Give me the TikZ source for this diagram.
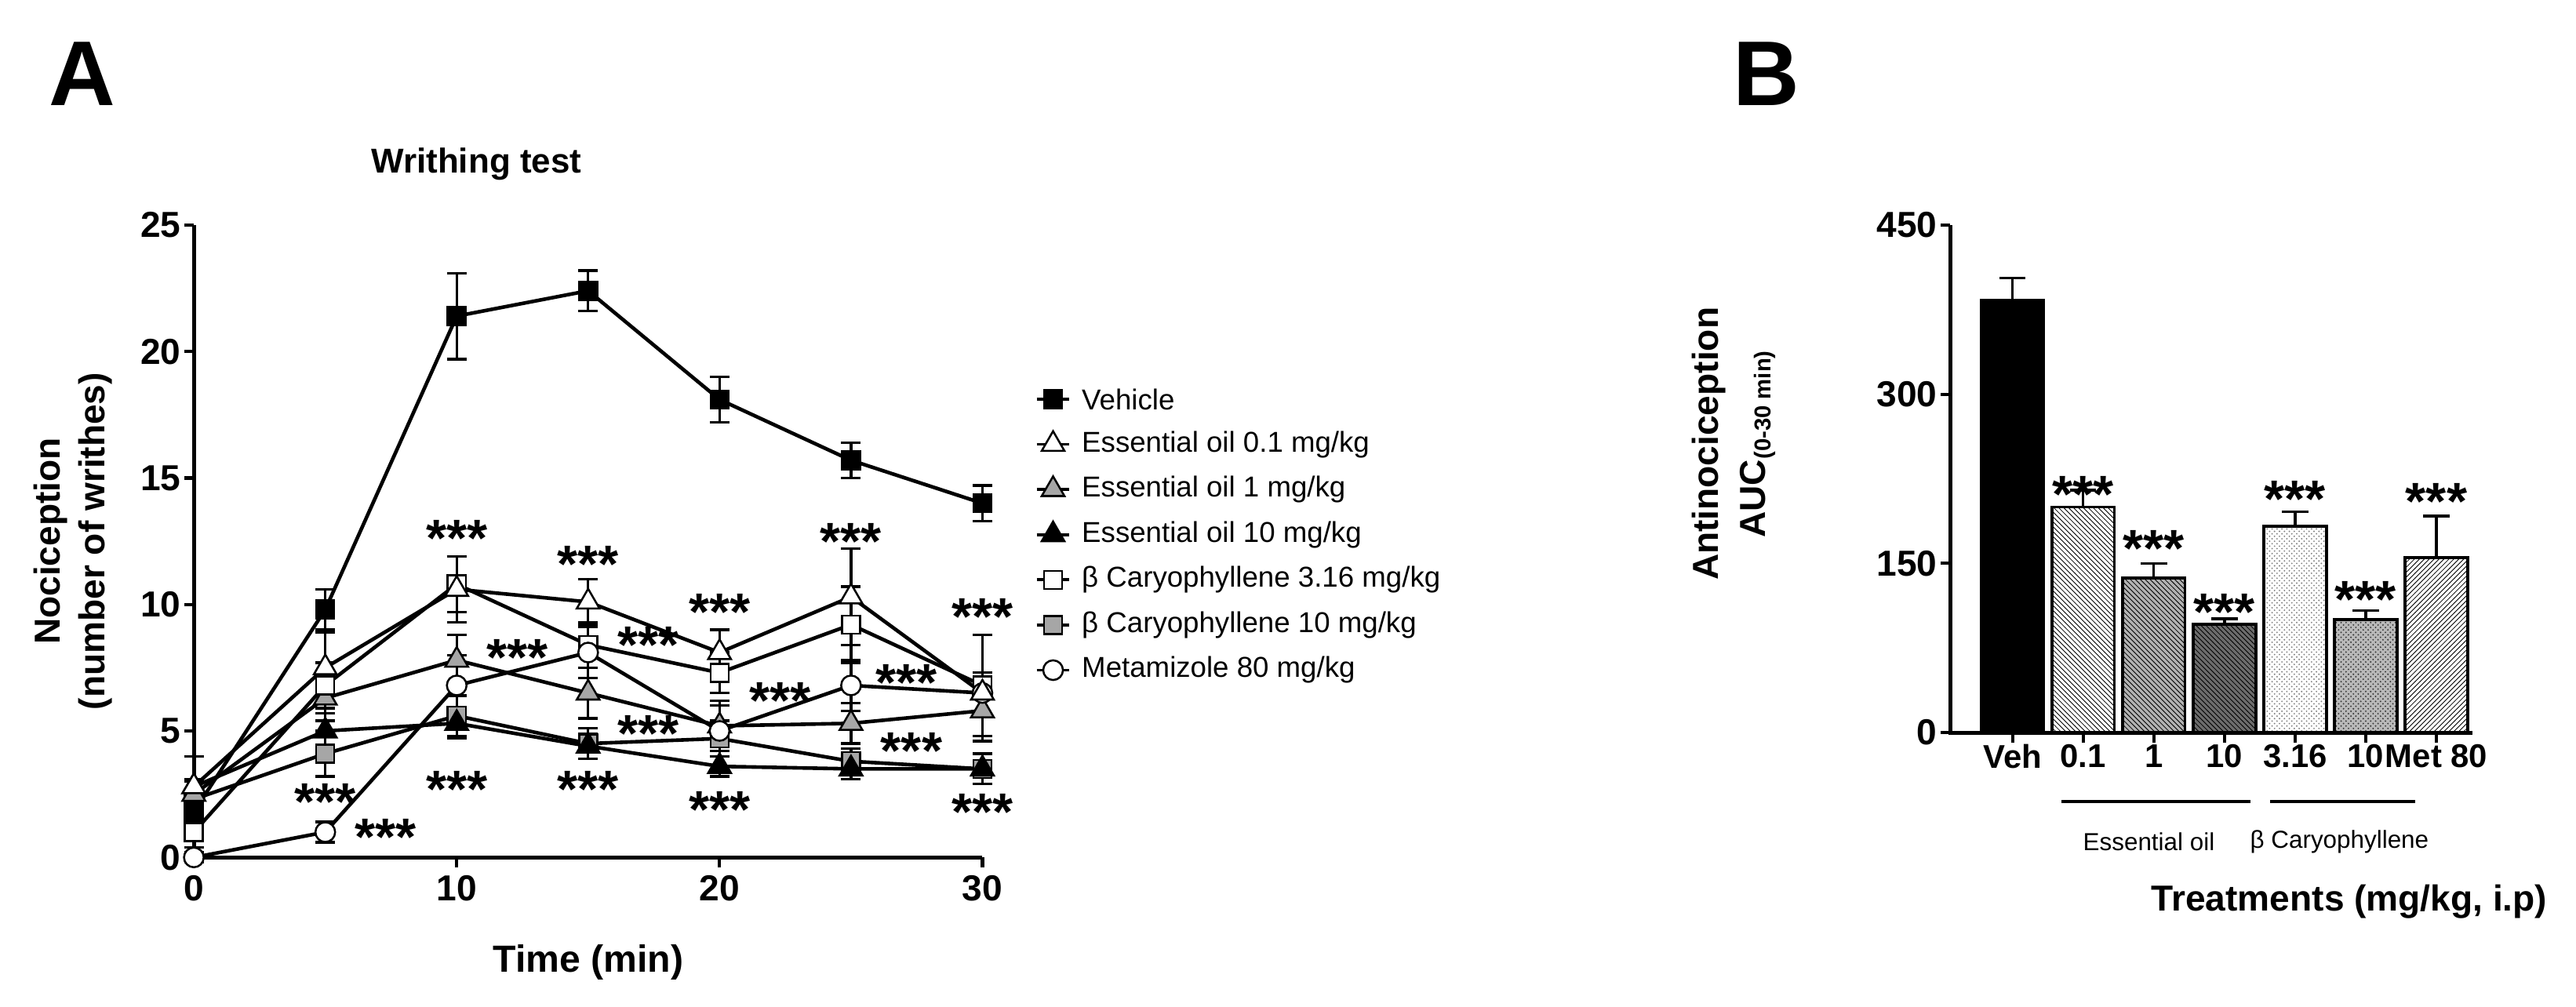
\documentclass[tikz,border=0pt]{standalone}
\usepackage{fontspec}
\setmainfont{Liberation Sans}
\usetikzlibrary{patterns,shapes.geometric}
\begin{document}
\begin{tikzpicture}[
  ln/.style={line width=2.2pt},
  eb/.style={line width=1.6pt},
  msq/.style={draw=black,line width=1.2pt,rectangle,minimum size=11pt,inner sep=0pt},
  mtri/.style={draw=black,line width=1.2pt,regular polygon,regular polygon sides=3,minimum size=16pt,inner sep=0pt},
  mcirc/.style={draw=black,line width=1.2pt,circle,minimum size=12pt,inner sep=0pt},
  tick/.style={font=\fontsize{22}{22}\selectfont\bfseries},
  btick/.style={font=\fontsize{20}{20}\selectfont\bfseries},
  st/.style={font=\fontsize{32}{32}\selectfont\bfseries,inner sep=0pt},
  leg/.style={font=\fontsize{17.5}{17.5}\selectfont,anchor=west},
  bar/.style={draw=black,line width=1.8pt}
]
\useasboundingbox (0pt,0pt) rectangle (1568pt,613pt);
\node[font=\fontsize{56}{56}\selectfont\bfseries] (lA) at (50pt,568pt) {A};
\node[font=\fontsize{56}{56}\selectfont\bfseries] (lB) at (1075pt,568pt) {B};
\node[font=\fontsize{21}{21}\selectfont\bfseries] (ttl) at (290pt,513pt) {Writhing test};
% ---------- Panel A ----------
\begin{scope}[shift={(118pt,91pt)},x=16pt,y=15.4pt]
\draw[line width=2.4pt] (0,25) -- (0,0) -- (30,0);
\foreach \v in {0,5,10,15,20,25}{\draw[line width=2pt] (0,\v) -- ++(-6pt,0) node[tick,anchor=east,inner sep=1pt] {\v};}
\foreach \t in {0,10,20,30}{\draw[line width=2pt] (\t,0) -- ++(0,-6pt) node[tick,anchor=north,inner sep=4pt] {\t};}
\node[font=\fontsize{23}{23}\selectfont\bfseries] (xl) at (15,-4.15) {Time (min)};
\node[font=\fontsize{22}{27}\selectfont\bfseries,rotate=90,align=center] (yl) at (-4.6,12.5) {Nociception\\(number of writhes)};
% lines
\draw[ln] plot coordinates {(0,1.8)(5,9.8)(10,21.4)(15,22.4)(20,18.1)(25,15.7)(30,14.0)};
\draw[ln] plot coordinates {(0,2.8)(5,7.5)(10,10.6)(15,10.1)(20,8.1)(25,10.3)(30,6.5)};
\draw[ln] plot coordinates {(0,2.5)(5,6.3)(10,7.8)(15,6.5)(20,5.2)(25,5.3)(30,5.8)};
\draw[ln] plot coordinates {(0,2.8)(5,5.0)(10,5.3)(15,4.4)(20,3.6)(25,3.5)(30,3.5)};
\draw[ln] plot coordinates {(0,1.0)(5,6.8)(10,10.8)(15,8.4)(20,7.3)(25,9.2)(30,6.8)};
\draw[ln] plot coordinates {(0,2.3)(5,4.1)(10,5.6)(15,4.5)(20,4.7)(25,3.8)(30,3.5)};
\draw[ln] plot coordinates {(0,0)(5,1.0)(10,6.8)(15,8.1)(20,5.0)(25,6.8)(30,6.5)};
% error bars
\foreach \t/\v/\e in {0/1.8/0.5,5/9.8/0.8,10/21.4/1.7,15/22.4/0.8,20/18.1/0.9,25/15.7/0.7,30/14.0/0.7,
  0/2.8/1.2,5/7.5/1.4,10/10.6/1.3,15/10.1/0.9,20/8.1/0.9,25/10.3/1.9,30/6.5/0.8,
  0/2.5/0.6,5/6.3/0.9,10/7.8/1.0,15/6.5/1.0,20/5.2/1.0,25/5.3/0.8,30/5.8/1.2,
  0/2.8/1.2,5/5.0/0.7,10/5.3/0.6,15/4.4/0.5,20/3.6/0.4,25/3.5/0.4,30/3.5/0.6,
  0/1.0/0.6,5/6.8/0.9,10/10.8/1.1,15/8.4/0.9,20/7.3/0.8,25/9.2/1.5,30/6.8/2.0,
  0/2.3/0.7,5/4.1/0.9,10/5.6/0.8,15/4.5/0.6,20/4.7/0.7,25/3.8/0.5,30/3.5/0.6,
  0/0/0.2,5/1.0/0.4,10/6.8/1.2,15/8.1/1.0,20/5.0/1.0,25/6.8/1.0,30/6.5/0.8}{
  \draw[eb] (\t,\v-\e) -- (\t,\v+\e);
  \draw[eb] ([xshift=-6pt]\t,\v+\e) -- ([xshift=6pt]\t,\v+\e);
  \draw[eb] ([xshift=-6pt]\t,\v-\e) -- ([xshift=6pt]\t,\v-\e);}
% markers
\foreach \t/\v in {0/2.3,5/4.1,10/5.6,15/4.5,20/4.7,25/3.8,30/3.5}{\node[msq,fill=gray!70] at (\t,\v) {};}
\foreach \t/\v in {0/2.8,5/5.0,10/5.3,15/4.4,20/3.6,25/3.5,30/3.5}{\node[mtri,fill=black] at (\t,\v) {};}
\foreach \t/\v in {0/2.5,5/6.3,10/7.8,15/6.5,20/5.2,25/5.3,30/5.8}{\node[mtri,fill=gray!70] at (\t,\v) {};}
\foreach \t/\v in {0/1.0,5/6.8,10/10.8,15/8.4,20/7.3,25/9.2,30/6.8}{\node[msq,fill=white] at (\t,\v) {};}
\foreach \t/\v in {0/0,5/1.0,10/6.8,15/8.1,20/5.0,25/6.8,30/6.5}{\node[mcirc,fill=white] at (\t,\v) {};}
\foreach \t/\v in {0/2.8,5/7.5,10/10.6,15/10.1,20/8.1,25/10.3,30/6.5}{\node[mtri,fill=white] at (\t,\v) {};}
\foreach \t/\v in {0/1.8,5/9.8,10/21.4,15/22.4,20/18.1,25/15.7,30/14.0}{\node[msq,fill=black] at (\t,\v) {};}
% stars
\foreach \x/\y in {10/12.6,15/11.6,20/9.7,25/12.5,30/9.5,5/2.2,10/2.7,15/2.7,20/1.9,30/1.8,
  12.3/7.9,17.3/8.4,22.3/6.2,27.1/6.9,17.3/4.9,27.3/4.2}{\node[st] at (\x,\y) {***};}
\node[st] at (7.3,0.8) {***};
\end{scope}
% legend
\foreach \i/\m/\f/\txt in {0/msq/black/{Vehicle},1/mtri/white/{Essential oil 0.1 mg/kg},2/mtri/gray!70/{Essential oil 1 mg/kg},
  3/mtri/black/{Essential oil 10 mg/kg},4/msq/white/{β Caryophyllene 3.16 mg/kg},5/msq/gray!70/{β Caryophyllene 10 mg/kg},6/mcirc/white/{Metamizole 80 mg/kg}}{
  \draw[line width=1.8pt] (631pt,370pt-27.5pt*\i) -- (651pt,370pt-27.5pt*\i);
  \node[\m,fill=\f] (lm\i) at (641pt,370pt-27.5pt*\i) {};
  \node[leg] (lt\i) at (655pt,370pt-27.5pt*\i) {\txt};}
% ---------- Panel B ----------
\begin{scope}[shift={(1187pt,167pt)},x=1pt,y=0.6867pt]
\fill[black] (19,0) rectangle (57,383);
\fill[white] (62,0) rectangle (100,200); \pattern[pattern=north west lines] (62,0) rectangle (100,200);
\fill[gray!60] (105,0) rectangle (143,137); \pattern[pattern=north west lines] (105,0) rectangle (143,137);
\fill[gray!85!black] (148,0) rectangle (186,96); \pattern[pattern=north west lines] (148,0) rectangle (186,96);
\fill[white] (191,0) rectangle (229,183); \pattern[pattern=crosshatch dots,pattern color=gray] (191,0) rectangle (229,183);
\fill[gray!55] (234,0) rectangle (272,100); \pattern[pattern=crosshatch dots,pattern color=gray!40!black] (234,0) rectangle (272,100);
\fill[white] (277,0) rectangle (315,155); \pattern[pattern=north east lines] (277,0) rectangle (315,155);
\foreach \a/\h/\e/\lab [count=\k] in {19/383/20/Veh,62/200/15/0.1,105/137/13/1,148/96/5/10,191/183/13/3.16,234/100/8/10,277/155/37/Met 80}{
  \draw[bar] (\a,0) rectangle (\a+38,\h);
  \draw[eb] (\a+19,\h) -- (\a+19,\h+\e);
  \draw[eb] (\a+11,\h+\e) -- (\a+27,\h+\e);
  \draw[line width=2pt] (\a+19,0) -- ++(0,-6pt);
  \node[btick,anchor=north,inner sep=3pt] (bl\k) at (\a+19,-6) {\lab};}
\node[st] at (81,211) {***};
\node[st] at (124,163) {***};
\node[st] at (167,107) {***};
\node[st] at (210,207) {***};
\node[st] at (253,118) {***};
\node[st] at (296,205) {***};
\draw[line width=2.4pt] (0,450) -- (0,0) -- (318,0);
\foreach \v in {0,150,300,450}{\draw[line width=2pt] (0,\v) -- ++(-6pt,0) node[tick,anchor=east,inner sep=1pt] {\v};}
\draw[line width=1.8pt] (68pt,-61) -- (183pt,-61);
\draw[line width=1.8pt] (195pt,-61) -- (283pt,-61);
\node[font=\fontsize{15}{15}\selectfont] (eo) at (121pt,-97) {Essential oil};
\node[font=\fontsize{15}{15}\selectfont] (bc) at (237pt,-97) {β Caryophyllene};
\node[font=\fontsize{22}{22}\selectfont\bfseries] (bx) at (243pt,-150) {Treatments (mg/kg, i.p)};
\node[font=\fontsize{22}{22}\selectfont\bfseries,rotate=90] (by1) at (-147pt,256) {Antinociception};
\node[font=\fontsize{22}{22}\selectfont\bfseries,rotate=90] (by2) at (-117pt,256) {AUC\textsubscript{\fontsize{14}{14}\selectfont (0-30 min)}};
\end{scope}
\end{tikzpicture}
\end{document}
